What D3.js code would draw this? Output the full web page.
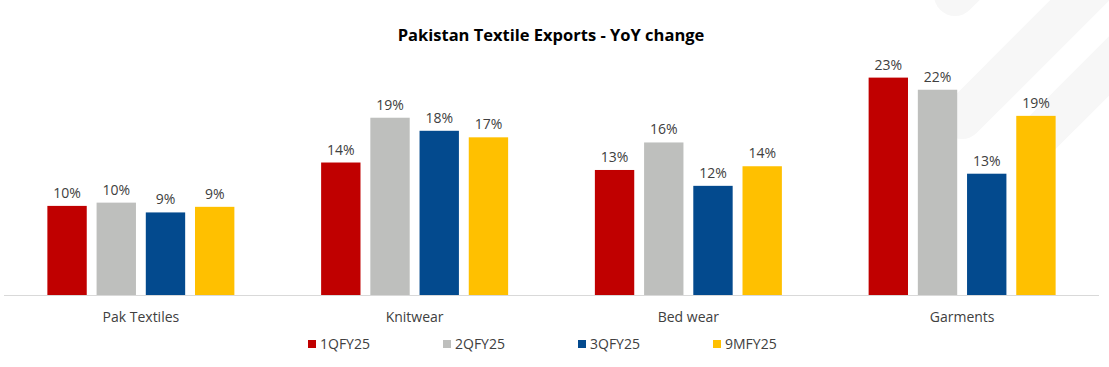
<!DOCTYPE html>
<html>
<head>
<meta charset="utf-8">
<script src="https://cdn.jsdelivr.net/npm/d3@7"></script>
<style>
  body { margin: 0; background: #fff; }
  text { font-family: "Open Sans", "Noto Sans", sans-serif; }
</style>
</head>
<body>
<div class="svg-container"></div>
<script>
var width = 1109;
var height = 367;

// data (YoY change, %)
var categories = ["Pak Textiles", "Knitwear", "Bed wear", "Garments"];
var seriesNames = ["1QFY25", "2QFY25", "3QFY25", "9MFY25"];
var q1 = [9.55, 14.2, 13.4, 23.3];
var q2 = [9.9, 19.0, 16.35, 22.0];
var q3 = [8.85, 17.6, 11.7, 13.0];
var m9 = [9.45, 16.9, 13.8, 19.2];
var colors = ["#C00000", "#BEBFBD", "#034A8E", "#FFC000"];

var seriesValues = [q1, q2, q3, m9];

var svg = d3.select(".svg-container")
            .append("svg")
            .attr("width", width)
            .attr("height", height);

// faint background watermark stripes
var stripes = [[955, -5, 1015, -65], [962, 118, 1110, -30], [1040, 135, 1150, 25]];
svg.append("g")
   .selectAll("line")
   .data(stripes)
   .enter().append("line")
   .attr("x1", function(d) { return d[0]; })
   .attr("y1", function(d) { return d[1]; })
   .attr("x2", function(d) { return d[2]; })
   .attr("y2", function(d) { return d[3]; })
   .attr("stroke", "#f7f7f7")
   .attr("stroke-width", 42)
   .attr("stroke-linecap", "round");

// scales
var x0 = d3.scaleBand()
           .domain(categories)
           .range([4, 1099]);

var groupWidth = 187;
var x1 = d3.scaleBand()
           .domain(seriesNames)
           .range([0, groupWidth])
           .paddingInner(0.2);

var y = d3.scaleLinear()
          .domain([0, 25])
          .range([295, 61.75]);

// baseline axis
svg.append("line")
   .attr("x1", x0.range()[0])
   .attr("x2", x0.range()[1])
   .attr("y1", y(0) + 0.5)
   .attr("y2", y(0) + 0.5)
   .attr("stroke", "#d9d9d9")
   .attr("stroke-width", 1);

// bars
var groups = svg.selectAll(".group")
                .data(categories)
                .enter().append("g")
                .attr("class", "group")
                .attr("transform", function(d) {
                    return "translate(" + (x0(d) + x0.bandwidth() / 2 - groupWidth / 2) + ",0)";
                });

groups.selectAll("rect")
      .data(function(d, i) {
          return seriesNames.map(function(s, j) { return { s: s, v: seriesValues[j][i], c: colors[j] }; });
      })
      .enter().append("rect")
      .attr("x", function(d) { return x1(d.s); })
      .attr("y", function(d) { return y(d.v); })
      .attr("width", x1.bandwidth())
      .attr("height", function(d) { return y(0) - y(d.v); })
      .attr("fill", function(d) { return d.c; });

// value labels
groups.selectAll(".val")
      .data(function(d, i) {
          return seriesNames.map(function(s, j) { return { s: s, v: seriesValues[j][i] }; });
      })
      .enter().append("text")
      .attr("class", "val")
      .attr("x", function(d) { return x1(d.s) + x1.bandwidth() / 2; })
      .attr("y", function(d) { return y(d.v) - 8; })
      .attr("text-anchor", "middle")
      .attr("font-size", "14px")
      .attr("fill", "#404040")
      .text(function(d) { return Math.round(d.v) + "%"; });

// category labels
svg.append("g")
   .selectAll("text")
   .data(categories)
   .enter().append("text")
   .attr("x", function(d) { return x0(d) + x0.bandwidth() / 2; })
   .attr("y", 322)
   .attr("text-anchor", "middle")
   .attr("font-size", "14px")
   .attr("fill", "#404040")
   .text(function(d) { return d; });

// title
svg.append("text")
   .attr("x", 551)
   .attr("y", 41)
   .attr("text-anchor", "middle")
   .attr("font-size", "16.5px")
   .attr("font-weight", "bold")
   .attr("fill", "#000")
   .text("Pakistan Textile Exports - YoY change");

// legend
var legend = svg.append("g")
                .selectAll("g")
                .data(seriesNames)
                .enter().append("g")
                .attr("transform", function(d, i) { return "translate(" + (308 + i * 135) + ",340)"; });

legend.append("rect")
      .attr("width", 8)
      .attr("height", 8)
      .attr("fill", function(d, i) { return colors[i]; });

legend.append("text")
      .attr("x", 12)
      .attr("y", 9)
      .attr("font-size", "14px")
      .attr("fill", "#404040")
      .text(function(d) { return d; });
</script>
</body>
</html>
